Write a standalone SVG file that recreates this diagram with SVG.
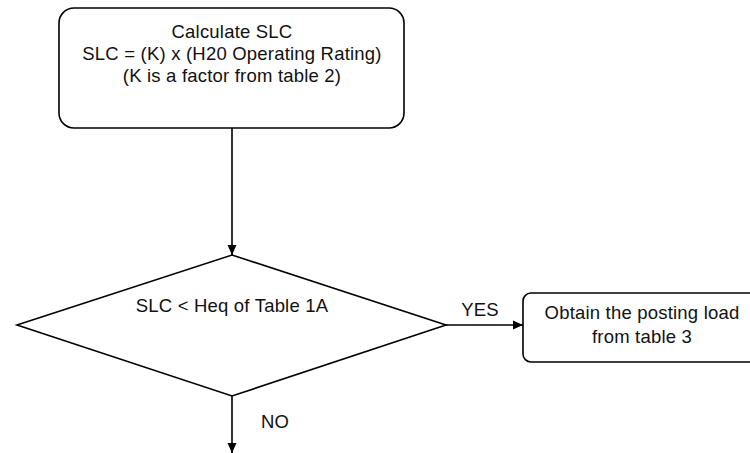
<svg xmlns="http://www.w3.org/2000/svg" width="750" height="453" viewBox="0 0 750 453">
<style>
.shape{fill:#fff;stroke:#000;stroke-width:1.6}
.conn{fill:none;stroke:#000;stroke-width:1.6}
text{font-family:"Liberation Sans",Arial,sans-serif;font-size:18.5px;letter-spacing:0.2px;fill:#111;text-anchor:middle}
</style>
<defs>
<marker id="arr" viewBox="0 0 10 10" refX="10" refY="5" markerWidth="10" markerHeight="10" markerUnits="userSpaceOnUse" orient="auto">
<path d="M0,0.5 L10,5 L0,9.5 Z" fill="#000"/>
</marker>
</defs>
<rect width="750" height="453" fill="#fff"/>
<g id="connectors">
<line class="conn" x1="232" y1="128" x2="232" y2="255" marker-end="url(#arr)"/>
<line class="conn" x1="446" y1="325" x2="523" y2="325" marker-end="url(#arr)"/>
<line class="conn" x1="232" y1="396" x2="232" y2="453" marker-end="url(#arr)"/>
<text x="480" y="316">YES</text>
<text x="275" y="428">NO</text>
</g>
<g id="calc">
<rect class="shape" x="59" y="8" width="345" height="120" rx="15"/>
<text x="232" y="38">Calculate SLC</text>
<text x="232" y="60">SLC = (K) x (H20 Operating Rating)</text>
<text x="232" y="82">(K is a factor from table 2)</text>
</g>
<g id="decision">
<polygon class="shape" points="232,255 446,325 232,396 17,325"/>
<text x="232" y="312">SLC &lt; Heq of Table 1A</text>
</g>
<g id="posting">
<rect class="shape" x="523" y="293" width="250" height="69" rx="8"/>
<text x="642" y="319">Obtain the posting load</text>
<text x="642" y="343">from table 3</text>
</g>
</svg>
